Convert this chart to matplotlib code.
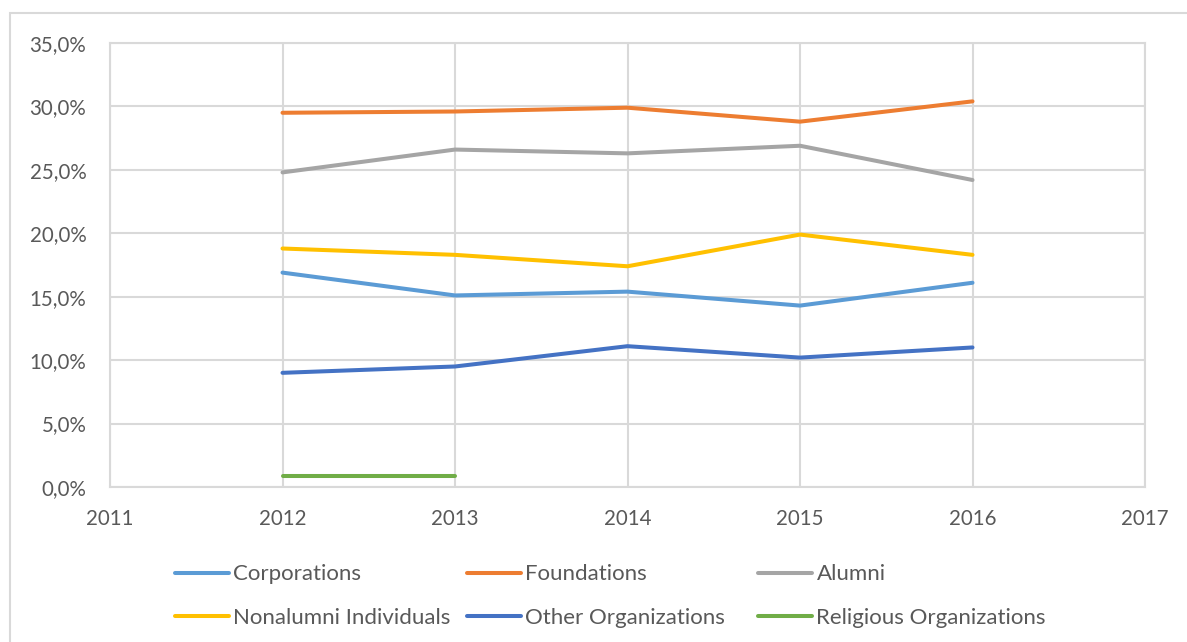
import numpy as np
import matplotlib
matplotlib.use('Agg')
import matplotlib.pyplot as plt
from matplotlib.patches import Rectangle
from matplotlib.ticker import FuncFormatter

plt.rcParams['font.family'] = ['Lato', 'DejaVu Sans']

# data (share of total giving, %)
years = [2012, 2013, 2014, 2015, 2016]
corporations = [16.9, 15.1, 15.4, 14.3, 16.1]
foundations = [29.5, 29.6, 29.9, 28.8, 30.4]
alumni = [24.8, 26.6, 26.3, 26.9, 24.2]
nonalumni = [18.8, 18.3, 17.4, 19.9, 18.3]
other_orgs = [9.0, 9.5, 11.1, 10.2, 11.0]
religious = [0.9, 0.9, np.nan, np.nan, np.nan]

series = [
    ('Corporations', corporations, '#5b9bd5'),
    ('Foundations', foundations, '#ed7d31'),
    ('Alumni', alumni, '#a5a5a5'),
    ('Nonalumni Individuals', nonalumni, '#ffc000'),
    ('Other Organizations', other_orgs, '#4472c4'),
    ('Religious Organizations', religious, '#70ad47'),
]

txt = '#595959'
grid = '#d9d9d9'
tick_fs = 14.8
leg_fs = 16

fig = plt.figure(figsize=(11.87, 6.42), dpi=100)
ax = fig.add_axes([110 / 1187, 1 - 487 / 642, 1035 / 1187, 444 / 642])

handles = []
for name, vals, col in series:
    h, = ax.plot(years, vals, color=col, lw=2.9, solid_capstyle='round', label=name)
    handles.append(h)

ax.set_xlim(2011, 2017)
ax.set_ylim(0, 35)
ax.set_xticks(range(2011, 2018))
ax.set_yticks(np.arange(0, 36, 5))
ax.yaxis.set_major_formatter(FuncFormatter(lambda v, p: f'{v:.1f}%'.replace('.', ',')))
ax.grid(True, color=grid, lw=1.5)
ax.set_axisbelow(True)
for s in ax.spines.values():
    s.set_color(grid)
    s.set_linewidth(1.5)
ax.tick_params(length=0, colors=txt, labelsize=tick_fs)
ax.tick_params(axis='y', pad=17)
ax.tick_params(axis='x', pad=16)

# outer chart border
fig.patches.append(Rectangle((10 / 1187, -0.1), 1.2, 1 - 13 / 642 + 0.1,
                             transform=fig.transFigure, fill=False,
                             ec=grid, lw=1.5))

# legend, three equal-width columns like the original
col_x = [175 / 1187, 467 / 1187, 758 / 1187]
for i, x in enumerate(col_x):
    hs = [handles[i], handles[i + 3]]
    fig.legend(hs, [h.get_label() for h in hs], loc='center left',
               bbox_to_anchor=(x, 1 - 596 / 642), frameon=False,
               fontsize=leg_fs, labelcolor=txt, handlelength=2.45,
               handletextpad=0.18, labelspacing=1.05, borderpad=0,
               borderaxespad=0)

fig.savefig('out.png', dpi=100)
